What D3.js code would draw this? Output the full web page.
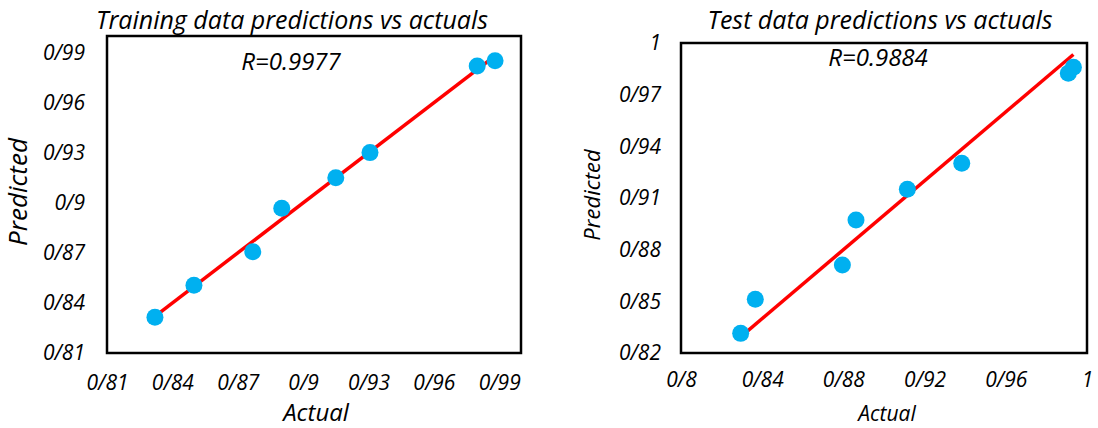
<!DOCTYPE html>
<html>
<head>
    <title>Predictions vs actuals</title>
    <script src="https://cdn.jsdelivr.net/npm/d3@7/dist/d3.min.js"></script>
    <style>
        body { margin: 0; background: white; }
        text { font-family: "Open Sans", Lato, sans-serif; font-style: italic; fill: #000; }
    </style>
</head>
<body>
    <svg width="1098" height="428"></svg>
    <script>
        // values
        const trainActual    = [0.8320, 0.8499, 0.8769, 0.8902, 0.9150, 0.9307, 0.9799, 0.9881];
        const trainPredicted = [0.8314, 0.8506, 0.8707, 0.8967, 0.9151, 0.9301, 0.9820, 0.9852];
        const testActual     = [0.8294, 0.8366, 0.8795, 0.8862, 0.9115, 0.9383, 0.9908, 0.9933];
        const testPredicted  = [0.8314, 0.8512, 0.8711, 0.8972, 0.9151, 0.9302, 0.9824, 0.9859];

        const trainXTicks = [0.81, 0.84, 0.87, 0.90, 0.93, 0.96, 0.99];
        const trainXLabels = ['0/81', '0/84', '0/87', '0/9', '0/93', '0/96', '0/99'];
        const trainYTicks = [0.81, 0.84, 0.87, 0.90, 0.93, 0.96, 0.99];
        const trainYLabels = ['0/81', '0/84', '0/87', '0/9', '0/93', '0/96', '0/99'];

        const testXTicks = [0.80, 0.84, 0.88, 0.92, 0.96, 1.00];
        const testXLabels = ['0/8', '0/84', '0/88', '0/92', '0/96', '1'];
        const testYTicks = [0.82, 0.85, 0.88, 0.91, 0.94, 0.97, 1.00];
        const testYLabels = ['0/82', '0/85', '0/88', '0/91', '0/94', '0/97', '1'];

        const svg = d3.select('svg');
        svg.append('rect').attr('width', 1098).attr('height', 428).attr('fill', 'white');

        function drawPanel(p) {
            const x = d3.scaleLinear().domain(p.xDomain).range([p.left, p.right]);
            const y = d3.scaleLinear().domain(p.yDomain).range([p.bottom, p.top]);
            const g = svg.append('g');

            // x axis labels
            g.append('g')
                .attr('transform', `translate(0,${p.bottom})`)
                .call(d3.axisBottom(x).tickValues(p.xTicks).tickSize(0).tickPadding(p.xPad)
                    .tickFormat((d, i) => p.xLabels[i]))
                .call(a => a.select('.domain').remove())
                .selectAll('text')
                    .attr('font-size', p.tickSize)
                    .attr('font-family', null);

            // y axis labels
            g.append('g')
                .attr('transform', `translate(${p.left},0)`)
                .call(d3.axisLeft(y).tickValues(p.yTicks).tickSize(0).tickPadding(p.yPad)
                    .tickFormat((d, i) => p.yLabels[i]))
                .call(a => a.select('.domain').remove())
                .selectAll('text')
                    .attr('font-size', p.tickSize)
                    .attr('font-family', null);

            // plot box
            g.append('rect')
                .attr('x', p.left).attr('y', p.top)
                .attr('width', p.right - p.left).attr('height', p.bottom - p.top)
                .attr('fill', 'none').attr('stroke', 'black').attr('stroke-width', 2.5);

            // ideal line over the range of actuals
            const ext = d3.extent(p.actual);
            g.append('line')
                .attr('x1', x(ext[0])).attr('y1', y(ext[0]))
                .attr('x2', x(ext[1])).attr('y2', y(ext[1]))
                .attr('stroke', '#ff0000').attr('stroke-width', 3.5);

            g.selectAll('circle')
                .data(p.actual.map((a, i) => [a, p.predicted[i]]))
                .join('circle')
                    .attr('cx', d => x(d[0]))
                    .attr('cy', d => y(d[1]))
                    .attr('r', 8.5)
                    .attr('fill', '#00b0f0');

            g.append('text')
                .attr('x', p.titleX).attr('y', 29)
                .attr('text-anchor', 'middle').attr('font-size', p.titleSize)
                .text(p.title);

            g.append('text')
                .attr('x', p.rX).attr('y', p.rY)
                .attr('text-anchor', 'middle').attr('font-size', 24)
                .text(p.rText);

            g.append('text')
                .attr('transform', `translate(${p.ylabX},${p.ylabY}) rotate(-90)`)
                .attr('text-anchor', 'middle').attr('font-size', p.ylabSize)
                .text('Predicted');

            g.append('text')
                .attr('x', p.xlabX).attr('y', p.xlabY)
                .attr('text-anchor', 'middle').attr('font-size', p.xlabSize)
                .text('Actual');
        }

        drawPanel({
            left: 107, right: 521, top: 36, bottom: 353,
            xDomain: [0.81, 1.0], yDomain: [0.81, 1.0],
            xTicks: trainXTicks, xLabels: trainXLabels,
            yTicks: trainYTicks, yLabels: trainYLabels,
            xPad: 22, yPad: 22, tickSize: 21,
            actual: trainActual, predicted: trainPredicted,
            title: 'Training data predictions vs actuals', titleX: 292, titleSize: 25,
            rText: 'R=0.9977', rX: 291, rY: 70,
            ylabX: 27, ylabY: 192, ylabSize: 26,
            xlabX: 316, xlabY: 421, xlabSize: 24
        });

        drawPanel({
            left: 681, right: 1087, top: 43, bottom: 353,
            xDomain: [0.8, 1.0], yDomain: [0.82, 1.0],
            xTicks: testXTicks, xLabels: testXLabels,
            yTicks: testYTicks, yLabels: testYLabels,
            xPad: 19, yPad: 20, tickSize: 21,
            actual: testActual, predicted: testPredicted,
            title: 'Test data predictions vs actuals', titleX: 880, titleSize: 25,
            rText: 'R=0.9884', rX: 878, rY: 66,
            ylabX: 600, ylabY: 195, ylabSize: 22,
            xlabX: 887, xlabY: 421, xlabSize: 21
        });
    </script>
</body>
</html>
